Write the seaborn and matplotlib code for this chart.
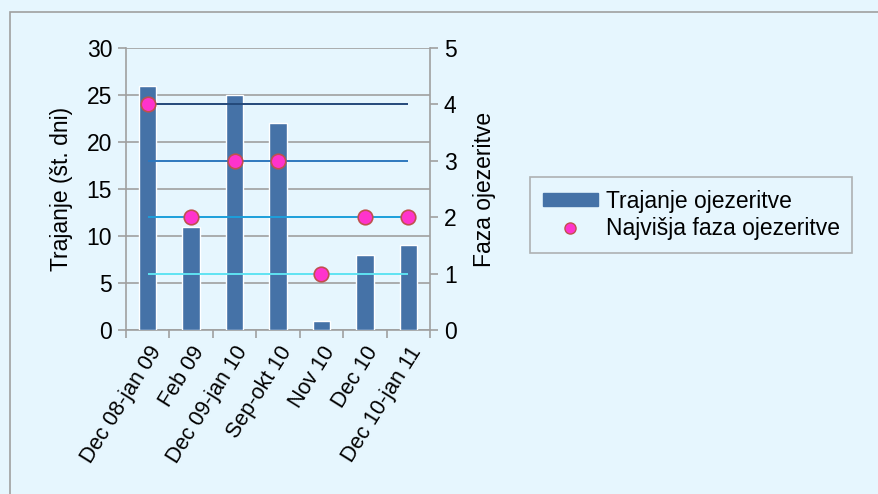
import pandas as pd
import matplotlib
matplotlib.use('Agg')
import matplotlib.pyplot as plt
import seaborn as sns
from matplotlib.patches import Patch, Rectangle
from matplotlib.lines import Line2D

# Data
periods = ['Dec 08-jan 09', 'Feb 09', 'Dec 09-jan 10', 'Sep-okt 10',
           'Nov 10', 'Dec 10', 'Dec 10-jan 11']
duration_days = [26, 11, 25, 22, 1, 8, 9]
max_phase = [4, 2, 3, 3, 1, 2, 2]

# phase reference lines and their colours
phase_levels = [1, 2, 3, 4]
phase_colors = ['#5FE3F2', '#1C9FDB', '#2E78BE', '#24497A']

bg = '#E6F6FE'
bar_color = '#4572A7'
grid_gray = '#A0A0A0'
fs = 16.5

df = pd.DataFrame({'period': periods, 'duration': duration_days, 'phase': max_phase})

sns.set_theme(style='white')
plt.rcParams['font.family'] = ['Liberation Sans', 'DejaVu Sans']
plt.rcParams['text.color'] = 'black'
plt.rcParams['axes.labelcolor'] = 'black'
plt.rcParams['xtick.color'] = 'black'
plt.rcParams['ytick.color'] = 'black'

fig = plt.figure(figsize=(8.79, 4.94), dpi=100, facecolor=bg)
ax = fig.add_axes([126 / 879, 1 - 330 / 494, (430 - 126) / 879, (330 - 48) / 494])
ax.set_facecolor(bg)

sns.barplot(data=df, x='period', y='duration', color=bar_color, width=0.4,
            saturation=1, ax=ax, zorder=3)
ax.set_ylim(0, 30)
ax.set_yticks(range(0, 31, 5))
ax.set_xlim(-0.5, len(periods) - 0.5)
ax.yaxis.grid(True, color=grid_gray, linewidth=1.2, zorder=0)
ax.set_axisbelow(True)
ax.set_xlabel('')
ax.set_ylabel('Trajanje (št. dni)', fontsize=fs, labelpad=10)

for s in ['left', 'bottom', 'right']:
    ax.spines[s].set_color(grid_gray)
    ax.spines[s].set_linewidth(1.2)
ax.spines['top'].set_visible(False)

ax.tick_params(axis='y', which='major', left=True, length=6, width=1.2,
               color=grid_gray, labelcolor='black', labelsize=fs, pad=4, direction='out')
ax.set_xticks(range(len(periods)))
ax.set_xticklabels(periods, rotation=58, ha='right', rotation_mode='anchor', fontsize=15.5)
ax.tick_params(axis='x', which='major', length=0, pad=9, labelcolor='black')
ax.set_xticks([i - 0.5 for i in range(len(periods) + 1)], minor=True)
ax.tick_params(axis='x', which='minor', bottom=True, length=6, width=1.2,
               color=grid_gray, direction='out')

ax2 = ax.twinx()
ax2.set_ylim(0, 5)
ax2.set_yticks(range(0, 6))
for lvl, col in zip(phase_levels, phase_colors):
    ax2.hlines(lvl, 0, len(periods) - 1, color=col, linewidth=1.4, zorder=4)
sns.scatterplot(x=list(range(len(periods))), y=max_phase, ax=ax2, s=110,
                color='#FF33CC', edgecolor='#C0504D', linewidth=1.2, zorder=5,
                legend=False)
ax2.set_xlim(-0.5, len(periods) - 0.5)
ax2.set_ylabel('Faza ojezeritve', fontsize=fs, labelpad=12)
ax2.tick_params(axis='y', right=True, length=6, width=1.2, color=grid_gray,
                labelcolor='black', labelsize=fs, pad=4, direction='out')
for s in ax2.spines.values():
    s.set_visible(False)

handles = [Patch(facecolor=bar_color, edgecolor=bar_color),
           Line2D([], [], marker='o', linestyle='', markersize=8,
                  markerfacecolor='#FF33CC', markeredgecolor='#C0504D')]
leg = fig.legend(handles, ['Trajanje ojezeritve', 'Najvišja faza ojezeritve'],
                 loc='upper left', bbox_to_anchor=(530 / 879, 1 - 177 / 494),
                 fontsize=fs, frameon=True, fancybox=False, handlelength=2.4,
                 handleheight=0.45, borderpad=0.55, labelspacing=0.2, handletextpad=0.35,
                 borderaxespad=0)
leg.get_frame().set_facecolor(bg)
leg.get_frame().set_edgecolor(grid_gray)
leg.get_frame().set_linewidth(1.2)

# outer frame of the chart area
fig.patches.append(Rectangle((10 / 879, -0.1), 1.0, 1 - 12 / 494 + 0.1,
                             transform=fig.transFigure, fill=False,
                             edgecolor=grid_gray, linewidth=1.2))

fig.savefig('out.png', dpi=100, facecolor=bg)
